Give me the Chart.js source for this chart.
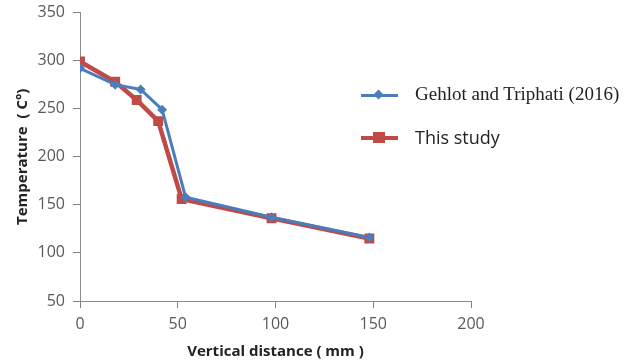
<!DOCTYPE html>
<html lang="en">
<head>
    <meta charset="UTF-8">
    <title>Temperature vs vertical distance</title>
    <style>
        body {
            margin: 0;
            background-color: #fff;
        }
        .wrap {
            position: relative;
            width: 632px;
            height: 364px;
        }
        .legend {
            position: absolute;
            left: 361px;
            top: 73px;
        }
        .legend .item {
            position: relative;
            height: 43px;
        }
        .legend .line {
            position: absolute;
            left: 0;
            width: 37px;
        }
        .legend .mark {
            position: absolute;
        }
        .legend .label {
            position: absolute;
            left: 54px;
            white-space: nowrap;
            color: #222;
        }
    </style>
    <script src="https://cdn.jsdelivr.net/npm/chart.js"></script>
</head>
<body>
    <div class="wrap">
        <canvas id="chart" width="632" height="364"></canvas>
        <div class="legend">
            <div class="item">
                <div class="line" style="top:21px;height:3px;background:#4A7EBB;"></div>
                <div class="mark" style="left:14px;top:18px;width:7px;height:7px;background:#4A7EBB;transform:rotate(45deg);"></div>
                <div class="label" style="top:9px;font-family:'Liberation Serif',serif;font-size:19px;line-height:24px;">Gehlot and Triphati (2016)</div>
            </div>
            <div class="item">
                <div class="line" style="top:20px;height:4px;background:#BE4B48;"></div>
                <div class="mark" style="left:12px;top:16px;width:12px;height:11px;background:#BE4B48;"></div>
                <div class="label" style="top:9px;font-family:'Open Sans',sans-serif;font-size:18px;line-height:24px;">This study</div>
            </div>
        </div>
    </div>

    <script>
        // Gehlot and Triphati (2016)
        const gehlotX = [0, 18, 31, 42, 54, 98, 148];
        const gehlotY = [292, 275, 270, 249, 158, 137, 116];
        // This study
        const studyX = [0, 18, 29, 40, 52, 98, 148];
        const studyY = [299, 278, 259, 237, 156, 136, 115];

        const xTicks = [0, 50, 100, 150, 200];
        const yTicks = [50, 100, 150, 200, 250, 300, 350];

        function toPoints(xs, ys) {
            return xs.map((x, i) => ({ x: x, y: ys[i] }));
        }

        const tickFont = { family: 'Open Sans', size: 16 };
        const titleFont = { family: 'Open Sans', size: 15, weight: 'bold' };
        const axisGrey = '#8c8c8c';

        new Chart(document.getElementById('chart'), {
            type: 'scatter',
            data: {
                datasets: [
                    {
                        label: 'Gehlot and Triphati (2016)',
                        data: toPoints(gehlotX, gehlotY),
                        showLine: true,
                        borderColor: '#4A7EBB',
                        backgroundColor: '#4A7EBB',
                        borderWidth: 3,
                        pointStyle: 'rectRot',
                        pointRadius: 5,
                        pointBorderWidth: 0
                    },
                    {
                        label: 'This study',
                        data: toPoints(studyX, studyY),
                        showLine: true,
                        borderColor: '#BE4B48',
                        backgroundColor: '#BE4B48',
                        borderWidth: 4.5,
                        pointStyle: 'rect',
                        pointRadius: 7,
                        pointBorderWidth: 0
                    }
                ]
            },
            options: {
                responsive: false,
                animation: false,
                layout: { autoPadding: false, padding: { top: 12.5, right: 161, left: 0, bottom: 0 } },
                plugins: {
                    legend: { display: false },
                    tooltip: { enabled: false }
                },
                scales: {
                    x: {
                        type: 'linear',
                        min: 0,
                        max: 200,
                        afterFit: s => { s.height = 63; s.paddingLeft = 0; },
                        afterBuildTicks: s => { s.ticks = xTicks.map(v => ({ value: v })); },
                        ticks: { color: '#595959', font: tickFont, padding: 7 },
                        grid: { drawOnChartArea: false, drawTicks: true, color: '#808080', tickColor: '#808080', tickLength: 7, lineWidth: 1 },
                        border: { color: axisGrey, width: 1 },
                        title: {
                            display: true,
                            text: 'Vertical distance ( mm )',
                            color: '#222',
                            font: titleFont,
                            padding: { top: 0, bottom: 3 }
                        }
                    },
                    y: {
                        type: 'linear',
                        min: 50,
                        max: 350,
                        afterFit: s => { s.width = 80; s.paddingTop = 0; s.paddingBottom = 0; },
                        afterBuildTicks: s => { s.ticks = yTicks.map(v => ({ value: v })); },
                        ticks: { color: '#595959', font: tickFont, padding: 8 },
                        grid: { drawOnChartArea: false, drawTicks: true, color: '#808080', tickColor: '#808080', tickLength: 7, lineWidth: 1 },
                        border: { color: axisGrey, width: 1 },
                        title: {
                            display: true,
                            text: 'Temperature  ( C°)',
                            color: '#222',
                            font: titleFont,
                            padding: { top: 14, bottom: 0 }
                        }
                    }
                }
            }
        });
    </script>
</body>
</html>
